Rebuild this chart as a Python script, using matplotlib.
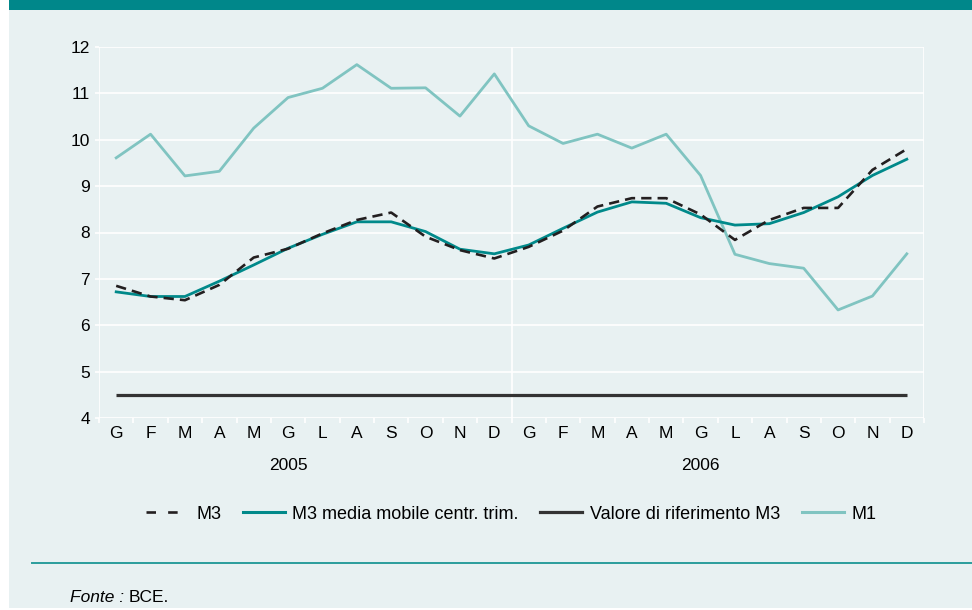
import matplotlib
matplotlib.use("Agg")
import matplotlib.pyplot as plt
from matplotlib.lines import Line2D
from matplotlib.patches import Rectangle
import matplotlib.transforms as mtransforms

plt.rcParams['font.family'] = ['Liberation Sans', 'DejaVu Sans']

months = ["G", "F", "M", "A", "M", "G", "L", "A", "S", "O", "N", "D",
          "G", "F", "M", "A", "M", "G", "L", "A", "S", "O", "N", "D"]
years = ["2005", "2006"]

m3 = [6.85, 6.62, 6.54, 6.87, 7.46, 7.65, 7.98, 8.27, 8.43, 7.91, 7.62, 7.44,
      7.69, 8.04, 8.56, 8.74, 8.74, 8.39, 7.84, 8.27, 8.53, 8.53, 9.35, 9.80]
m3_ma = [6.72, 6.62, 6.62, 6.95, 7.30, 7.66, 7.96, 8.23, 8.23, 8.02, 7.64, 7.54,
         7.73, 8.09, 8.44, 8.66, 8.63, 8.32, 8.16, 8.19, 8.43, 8.77, 9.23, 9.58]
ref_value = [4.5] * 24
m1 = [9.61, 10.12, 9.22, 9.32, 10.25, 10.91, 11.11, 11.62, 11.11, 11.12, 10.51, 11.42,
      10.30, 9.92, 10.12, 9.82, 10.12, 9.23, 7.53, 7.33, 7.23, 6.33, 6.63, 7.54]

BG = "#e8f1f2"
HEADER = "#00878a"
C_M1 = "#80c4c1"
C_MA = "#00898a"
C_M3 = "#231f20"
C_REF = "#333333"

fig = plt.figure(figsize=(9.72, 6.10), dpi=100)
fig.patch.set_facecolor("white")
W, H = 972.0, 610.0

# background panel and header band
fig.patches.append(Rectangle((9 / W, 2 / H), 1 - 9 / W, 1 - 12 / H, transform=fig.transFigure,
                             facecolor=BG, edgecolor="none", zorder=-10))
fig.patches.append(Rectangle((9 / W, 1 - 10 / H), 1 - 9 / W, 10 / H, transform=fig.transFigure,
                             facecolor=HEADER, edgecolor="none", zorder=-10))

ax = fig.add_axes([99 / W, 1 - 418 / H, (924 - 99) / W, (418 - 47) / H])
ax.set_facecolor(BG)
for s in ax.spines.values():
    s.set_visible(False)

x = list(range(len(months)))
ax.set_xlim(-0.5, 23.5)
ax.set_ylim(4, 12)

# grid
for yv in range(4, 13):
    ax.axhline(yv, color="white", lw=1.2, zorder=1)
for xv in (-0.5, 11.5, 23.5):
    ax.axvline(xv, color="white", lw=1.2, zorder=1)

ax.plot(x, ref_value, color=C_REF, lw=2.3, zorder=3, solid_capstyle="butt")
ax.plot(x, m1, color=C_M1, lw=2.0, zorder=3)
ax.plot(x, m3_ma, color=C_MA, lw=2.0, zorder=4)
ax.plot(x, m3, color=C_M3, lw=1.9, dashes=(3.9, 2.3), zorder=5)

ax.set_yticks(range(4, 13))
ax.set_yticklabels([str(v) for v in range(4, 13)], fontsize=12.5)
ax.set_xticks(x)
ax.set_xticklabels(months, fontsize=12.5)
ax.set_xticks([v - 0.5 for v in range(25)], minor=True)
ax.tick_params(axis="x", which="major", length=0, pad=5.5)
ax.tick_params(axis="x", which="minor", length=3.5, color="white", width=1.2)
ax.tick_params(axis="y", length=3, color="white", width=1.2, pad=3.5)

trans = mtransforms.blended_transform_factory(ax.transData, ax.transAxes)
ax.text(5, -0.128, years[0], transform=trans, ha="center", va="center", fontsize=12.5)
ax.text(17, -0.128, years[1], transform=trans, ha="center", va="center", fontsize=12.5)

handles = [
    Line2D([], [], color=C_M3, lw=1.9, dashes=(3.6, 4.6)),
    Line2D([], [], color=C_MA, lw=2.2),
    Line2D([], [], color=C_REF, lw=2.3),
    Line2D([], [], color=C_M1, lw=2.2),
]
labels = ["M3", "M3 media mobile centr. trim.", "Valore di riferimento M3", "M1"]
ax.legend(handles, labels, loc="center", bbox_to_anchor=(0.5, -0.259), ncol=4,
          frameon=False, fontsize=13, handlelength=2.33, handletextpad=0.42,
          columnspacing=1.2)

# footer rule and source
fig.add_artist(Line2D([32 / W, 1], [1 - 563 / H, 1 - 563 / H], transform=fig.transFigure,
                      color="#2a9d9c", lw=1.4))
fig.text(70 / W, 1 - 597.5 / H, "Fonte :", fontsize=12.5, style="italic", va="center")
fig.text(129 / W, 1 - 597.5 / H, "BCE.", fontsize=12.5, va="center")

fig.savefig("out.png", dpi=100, facecolor=fig.get_facecolor())
